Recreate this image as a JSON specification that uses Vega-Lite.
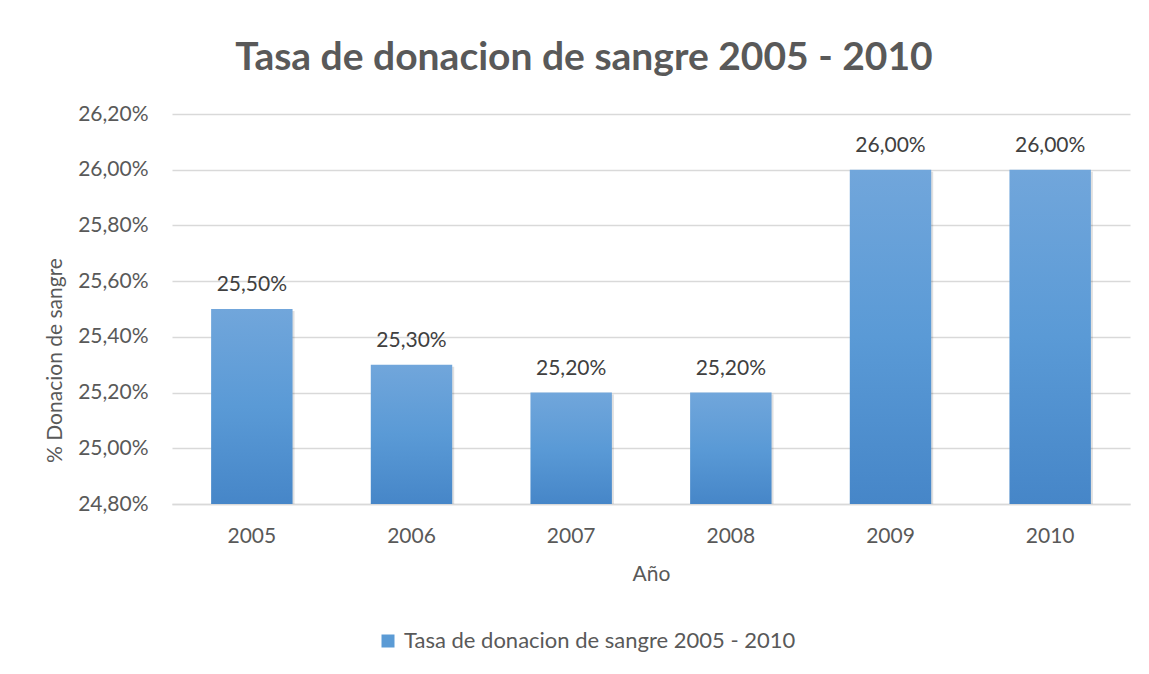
{
  "$schema": "https://vega.github.io/schema/vega-lite/v6.json",
  "autosize": {"type": "none"},
  "padding": {"left": 172, "top": 114, "right": 19, "bottom": 170},
  "width": 958,
  "height": 390,
  "background": "white",
  "title": {
    "text": "Tasa de donacion de sangre 2005 - 2010",
    "font": "Lato",
    "fontSize": 39,
    "fontWeight": "bold",
    "color": "#595959",
    "anchor": "middle",
    "frame": "group",
    "dx": -67,
    "offset": 25
  },
  "data": {
    "values": [
      {"anio": "2005", "tasa": 0.255, "serie": "Tasa de donacion de sangre 2005 - 2010"},
      {"anio": "2006", "tasa": 0.253, "serie": "Tasa de donacion de sangre 2005 - 2010"},
      {"anio": "2007", "tasa": 0.252, "serie": "Tasa de donacion de sangre 2005 - 2010"},
      {"anio": "2008", "tasa": 0.252, "serie": "Tasa de donacion de sangre 2005 - 2010"},
      {"anio": "2009", "tasa": 0.26, "serie": "Tasa de donacion de sangre 2005 - 2010"},
      {"anio": "2010", "tasa": 0.26, "serie": "Tasa de donacion de sangre 2005 - 2010"}
    ]
  },
  "encoding": {
    "x": {
      "field": "anio",
      "type": "nominal",
      "scale": {"paddingInner": 0.49, "paddingOuter": 0.245},
      "axis": {
        "title": "Año",
        "labelAngle": 0,
        "labelFont": "Lato",
        "labelFontSize": 21,
        "labelColor": "#595959",
        "labelPadding": 21,
        "titleFont": "Lato",
        "titleFontSize": 21,
        "titleFontWeight": "normal",
        "titleColor": "#595959",
        "titlePadding": 17,
        "ticks": false,
        "domain": true,
        "domainColor": "#d9d9d9",
        "domainWidth": 1.5
      }
    },
    "y": {
      "field": "tasa",
      "type": "quantitative",
      "scale": {"domain": [0.248, 0.262], "zero": false, "nice": false},
      "axis": {
        "title": "% Donacion de sangre",
        "values": [0.248, 0.25, 0.252, 0.254, 0.256, 0.258, 0.26, 0.262],
        "format": ".2%",
        "labelFont": "Lato",
        "labelFontSize": 21,
        "labelColor": "#595959",
        "labelPadding": 24,
        "titleFont": "Lato",
        "titleFontSize": 21,
        "titleFontWeight": "normal",
        "titleColor": "#595959",
        "titlePadding": 12,
        "titleY": 246,
        "ticks": false,
        "domain": false,
        "grid": true,
        "gridColor": "#d9d9d9",
        "gridWidth": 1.5
      }
    }
  },
  "layer": [
    {
      "mark": {"type": "bar", "opacity": 0},
      "encoding": {
        "y2": {"datum": 0.248},
        "color": {
          "field": "serie",
          "type": "nominal",
          "scale": {"range": ["#5b9bd5"]},
          "legend": {
            "title": null,
            "orient": "none",
            "legendX": 205,
            "legendY": 516,
            "direction": "horizontal",
            "symbolType": "square",
            "symbolSize": 169,
            "symbolStrokeWidth": 0,
            "symbolOpacity": 1,
            "labelFont": "Lato",
            "labelFontSize": 22,
            "labelColor": "#595959",
            "labelOffset": 5,
            "padding": 0,
            "labelLimit": 600
          }
        }
      }
    },
    {
      "mark": {"type": "bar", "fill": "#000000", "fillOpacity": 0.12, "xOffset": 2, "yOffset": 2},
      "encoding": {"y2": {"datum": 0.248}}
    },
    {
      "mark": {
        "type": "bar",
        "fill": {
          "gradient": "linear",
          "x1": 0, "y1": 0, "x2": 0, "y2": 1,
          "stops": [
            {"offset": 0, "color": "#71a6db"},
            {"offset": 0.5, "color": "#5a9ad6"},
            {"offset": 1, "color": "#4686c8"}
          ]
        }
      },
      "encoding": {"y2": {"datum": 0.248}}
    },
    {
      "mark": {"type": "text", "baseline": "alphabetic", "dy": -18, "font": "Lato", "fontSize": 21, "color": "#404040"},
      "encoding": {
        "text": {"field": "tasa", "type": "quantitative", "format": ".2%"}
      }
    }
  ],
  "config": {
    "view": {"stroke": null},
    "locale": {
      "number": {
        "decimal": ",",
        "thousands": ".",
        "grouping": [3],
        "currency": ["", " €"]
      }
    }
  }
}
